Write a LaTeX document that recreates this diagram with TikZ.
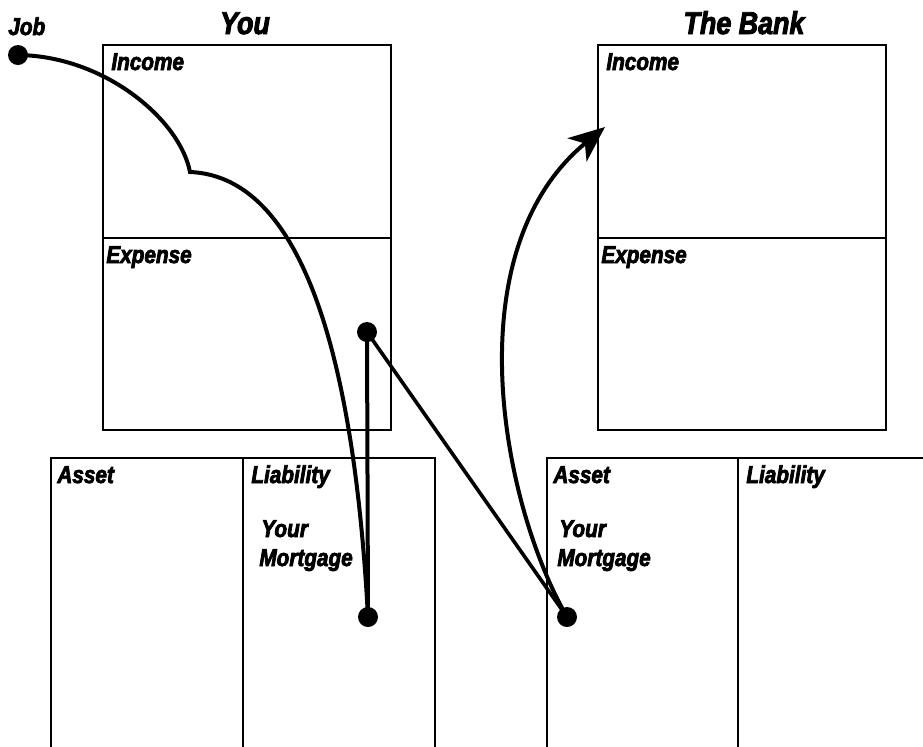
\documentclass[tikz,border=0pt]{standalone}
\usepackage{fontspec}
\setmainfont{Liberation Sans}
\newfontfamily\heavyfont[FakeBold=3, FakeStretch=0.85]{Liberation Sans}
\usetikzlibrary{arrows.meta}

\begin{document}
\begin{tikzpicture}[
  x=0.5pt, y=-0.5pt,
  sheet/.style={draw, line width=1pt},
  field/.style={anchor=base west, inner sep=0pt, font=\heavyfont\fontsize{12.2}{14}\selectfont\bfseries\itshape},
  heading/.style={anchor=base, inner sep=0pt, font=\heavyfont\fontsize{15.8}{18}\selectfont\bfseries\itshape},
  dot/.style={circle, fill, inner sep=0pt, minimum size=10pt},
  flow/.style={line width=2pt},
  arrow/.style={flow, -{Stealth[length=18pt, width=15pt, inset=5pt]}}
]
\useasboundingbox (0,0) rectangle (923,746);
\clip (0,0) rectangle (923,746);

% Titles
\node[heading] (you) at (245, 34) {You};
\node[heading] (bank) at (744, 34) {The Bank};

% Your income statement
\draw[sheet] (103, 45) rectangle (391, 430);
\draw[sheet] (103, 238) -- (391, 238);
\node[field] (yinc) at (111, 70) {Income};
\node[field] (yexp) at (106, 263) {Expense};

% Your balance sheet
\draw[sheet] (51, 458) rectangle (435, 760);
\draw[sheet] (243, 458) -- (243, 760);
\node[field] (yast) at (57, 483) {Asset};
\node[field] (ylia) at (251, 483) {Liability};
\node[field] (yyour) at (261, 537) {Your};
\node[field] (ymort) at (259, 566) {Mortgage};

% Bank income statement
\draw[sheet] (598, 45) rectangle (886, 430);
\draw[sheet] (598, 238) -- (886, 238);
\node[field] (binc) at (606, 70) {Income};
\node[field] (bexp) at (601, 263) {Expense};

% Bank balance sheet
\draw[sheet] (547, 458) rectangle (940, 760);
\draw[sheet] (738, 458) -- (738, 760);
\node[field] (bast) at (553, 483) {Asset};
\node[field] (blia) at (746, 483) {Liability};
\node[field] (byour) at (559, 537) {Your};
\node[field] (bmort) at (557, 566) {Mortgage};

% Job
\node[field] (joblbl) at (8, 35) {Job};

% Dots
\node[dot] (job) at (18, 55) {};
\node[dot] (expdot) at (367, 332) {};
\node[dot] (liadot) at (368, 617) {};
\node[dot] (bankdot) at (567, 617) {};

% Free points
\coordinate (cusp) at (190, 172);
\coordinate (bankinc) at (605, 127);

% Flows
\draw[flow] (job.center) .. controls (105, 56) and (180, 120) .. (cusp)
  .. controls (290, 176) and (352, 320) .. (liadot.center);
\draw[flow] (expdot.center) -- (liadot.center);
\draw[line width=1.8pt] (expdot.center) -- (bankdot.center);
\draw[arrow] (bankdot.center) .. controls (500, 500) and (455, 250) .. (bankinc);

\end{tikzpicture}
\end{document}
